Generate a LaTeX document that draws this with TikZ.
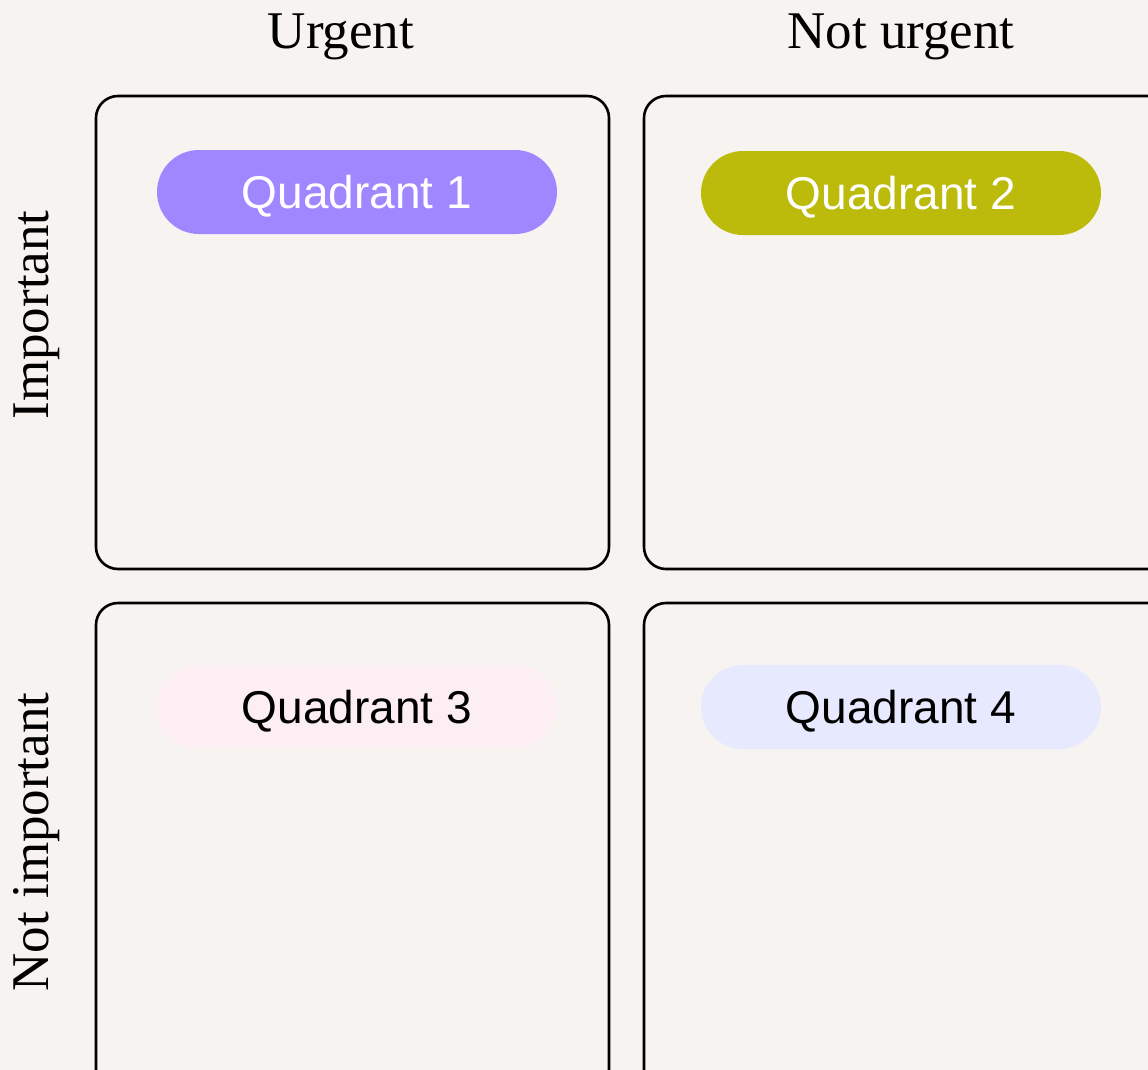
\documentclass[tikz,border=0pt]{standalone}
\usepackage{fontspec}
\setmainfont{Liberation Serif}
\newfontfamily\pillfont{Liberation Sans}
\definecolor{bg}{HTML}{F6F3F0}
\definecolor{qone}{HTML}{A087FF}
\definecolor{qtwo}{HTML}{BCBA0A}
\definecolor{qthree}{HTML}{FDEEF4}
\definecolor{qfour}{HTML}{E7EAFE}
\begin{document}
\begin{tikzpicture}[x=1pt,y=-1pt,
  quadbox/.style={draw=black,line width=2.6pt,rounded corners=22pt},
  pill/.style={rounded corners=42pt,minimum width=400pt,minimum height=84pt,inner sep=0pt,
    font=\pillfont\fontsize{46}{52}\selectfont,text height=33pt,text depth=0pt},
  axislabel/.style={font=\fontsize{53}{60}\selectfont,inner sep=0pt,anchor=base}]
\useasboundingbox (0,0) rectangle (1148,1070);
\fill[bg] (0,0) rectangle (1148,1070);
\begin{scope}
\clip (0,0) rectangle (1148,1070);
\draw[quadbox] (96,96) rectangle (609,569);
\draw[quadbox] (644,96) rectangle (1170,569);
\draw[quadbox] (96,603) rectangle (609,1100);
\draw[quadbox] (644,603) rectangle (1170,1100);
\end{scope}
\node[pill,fill=qone,text=white] (p1) at (357,192) {Quadrant 1};
\node[pill,fill=qtwo,text=white] (p2) at (901,193) {Quadrant 2};
\node[pill,fill=qthree,text=black] (p3) at (357,707) {Quadrant 3};
\node[pill,fill=qfour,text=black] (p4) at (901,707) {Quadrant 4};
\node[axislabel] (u) at (341,49) {Urgent};
\node[axislabel] (nu) at (901,49) {Not urgent};
\node[axislabel,rotate=90] (im) at (48,315) {Important};
\node[axislabel,rotate=90] (ni) at (48,842) {Not important};
\end{tikzpicture}
\end{document}
